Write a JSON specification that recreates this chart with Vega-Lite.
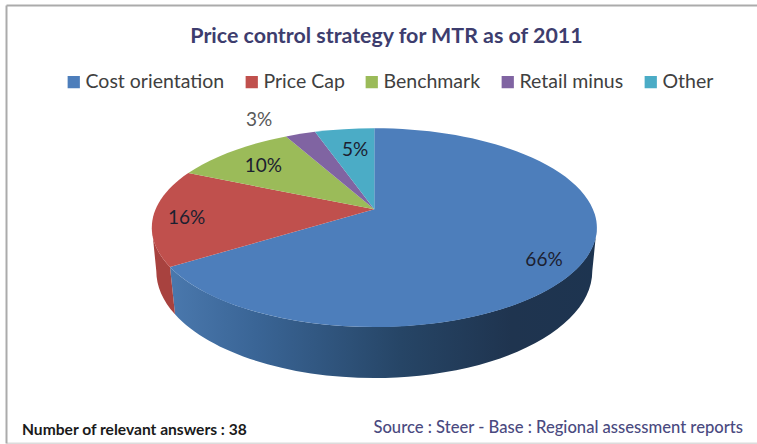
{
"$schema":"https://vega.github.io/schema/vega-lite/v6.json",
"width":751,"height":438,
"padding":{"left":6,"top":5,"right":0,"bottom":1},
"autosize":{"type":"none"},
"background":"white",
"title":{"text":"Price control strategy for MTR as of 2011","font":"Lato","fontSize":21.4,"fontWeight":"bold","color":"#3d3d6e","anchor":"middle","dx":5,"offset":-42,"orient":"top"},
"config":{"view":{"stroke":null}},
"datasets":{"slices":[
{"category":"Cost orientation","share":66},
{"category":"Price Cap","share":16},
{"category":"Benchmark","share":10},
{"category":"Retail minus","share":3},
{"category":"Other","share":5}
]},
"data":{"name":"slices"},
"resolve":{"scale":{"x":"independent","y":"independent","shape":"independent"},"axis":{"x":"independent","y":"independent"}},
"layer":[
{"transform":[{"filter":"datum.category==='Cost orientation'"}],
 "mark":{"type":"point","filled":true,"opacity":1,"size":4,"strokeWidth":0,"fill":{"gradient":"linear","x1":0,"x2":1,"y1":0,"y2":0,"stops":[{"offset":0,"color":"#4a78ad"},{"offset":0.2,"color":"#3a6596"},{"offset":0.54,"color":"#264566"},{"offset":0.8,"color":"#1f344f"},{"offset":1,"color":"#1d3450"}]}},
 "encoding":{
  "x":{"datum":368.3,"type":"quantitative","scale":{"domain":[0,751],"nice":false,"zero":false},"axis":{"orient":"top","domain":true,"domainColor":"#ababab","domainWidth":2,"ticks":false,"labels":false,"grid":false,"title":null}},
  "y":{"datum":204.3,"type":"quantitative","scale":{"domain":[0,438],"reverse":true,"nice":false,"zero":false},"axis":{"orient":"left","domain":true,"domainColor":"#ababab","domainWidth":2,"ticks":false,"labels":false,"grid":false,"title":null}},
  "shape":{"field":"category","type":"nominal","legend":null,"scale":{"domain":["Cost orientation"],"range":["M-204.3,57.7 A222.5,99.4 0 0 0 222.4,18.3 L218,61.7 A218,107 0 0 1 -199.3,105 Z"]}}
 }},
{"transform":[{"filter":"datum.category==='Price Cap'"}],
 "mark":{"type":"point","filled":true,"opacity":1,"size":4,"strokeWidth":0,"fill":"#a8423f"},
 "encoding":{
  "x":{"datum":368.3,"type":"quantitative","scale":{"domain":[0,751],"nice":false,"zero":false},"axis":{"orient":"bottom","domain":true,"domainColor":"#dcdcdc","domainWidth":2,"ticks":false,"labels":false,"grid":false,"title":null}},
  "y":{"datum":204.3,"type":"quantitative","scale":{"domain":[0,438],"reverse":true,"nice":false,"zero":false},"axis":null},
  "shape":{"field":"category","type":"nominal","legend":null,"scale":{"domain":["Price Cap"],"range":["M-222.4,18.3 L-218,61.7 A218,107 0 0 0 -199.3,105 L-204.3,57.7 A222.5,99.4 0 0 1 -222.4,18.3 Z"]}}
 }},
{"mark":{"type":"point","filled":true,"opacity":1,"size":4,"strokeWidth":0},
 "encoding":{
  "x":{"datum":368.3,"type":"quantitative","scale":{"domain":[0,751],"nice":false,"zero":false},"axis":null},
  "y":{"datum":204.3,"type":"quantitative","scale":{"domain":[0,438],"reverse":true,"nice":false,"zero":false},"axis":null},
  "color":{"field":"category","type":"nominal","sort":null,
   "scale":{"domain":["Cost orientation","Price Cap","Benchmark","Retail minus","Other"],"range":["#4d7ebb","#c0504d","#9bbb59","#8064a2","#4bacc6"]},
   "legend":{"orient":"none","legendX":58,"legendY":67,"direction":"horizontal","title":null,"symbolType":"square","symbolSize":150,"symbolStrokeWidth":0,"symbolOpacity":1,"labelFont":"Lato","labelFontSize":19.5,"labelColor":"#404040","labelOffset":2,"columnPadding":17,"padding":0,"labelLimit":300}},
  "shape":{"field":"category","type":"nominal","legend":null,"scale":{"domain":["Cost orientation","Price Cap","Benchmark","Retail minus","Other"],"range":[
   "M0,0 L-204.3,57.7 A222.5,99.4 0 1 0 0,-81 Z",
   "M0,0 L-186,-36.2 A222.5,99.4 0 0 0 -204.3,57.7 Z",
   "M0,0 L-88.3,-72.9 A222.5,99.4 0 0 0 -186,-36.2 Z",
   "M0,0 L-59.3,-77.5 A222.5,99.4 0 0 0 -88.3,-72.9 Z",
   "M0,0 L0,-81 A222.5,99.4 0 0 0 -59.3,-77.5 Z"]}}
 }},
{"transform":[{"calculate":"datum.share+'%'","as":"label"}],
 "mark":{"type":"text","font":"Lato","fontSize":19,"align":"center","baseline":"middle"},
 "encoding":{
  "x":{"field":"share","type":"quantitative","axis":null,"scale":{"domain":[3,5,10,16,66],"range":[253,349,257.3,180.7,538],"zero":false,"nice":false}},
  "y":{"field":"share","type":"quantitative","axis":null,"scale":{"domain":[3,5,10,16,66],"range":[115,145,160.7,213.3,255],"zero":false,"nice":false}},
  "text":{"field":"label"},
  "color":{"condition":{"test":"datum.share===3","value":"#595959"},"value":"#1c2030"}
 }},
{"data":{"values":[{"note":"Number of relevant answers : 38"}]},
 "mark":{"type":"text","font":"Lato","fontSize":15.6,"fontWeight":"bold","align":"left","baseline":"middle","color":"#1a1a1a"},
 "encoding":{
  "x":{"datum":16,"type":"quantitative","axis":null,"scale":{"domain":[0,751],"nice":false,"zero":false}},
  "y":{"datum":425,"type":"quantitative","axis":null,"scale":{"domain":[0,438],"reverse":true,"nice":false,"zero":false}},
  "text":{"field":"note"}
 }},
{"data":{"values":[{"note":"Source : Steer - Base : Regional assessment reports"}]},
 "mark":{"type":"text","font":"Lato","fontSize":16.6,"fontWeight":500,"align":"right","baseline":"middle","color":"#4a4a80"},
 "encoding":{
  "x":{"datum":737,"type":"quantitative","axis":null,"scale":{"domain":[0,751],"nice":false,"zero":false}},
  "y":{"datum":423,"type":"quantitative","axis":null,"scale":{"domain":[0,438],"reverse":true,"nice":false,"zero":false}},
  "text":{"field":"note"}
 }}
]
}
